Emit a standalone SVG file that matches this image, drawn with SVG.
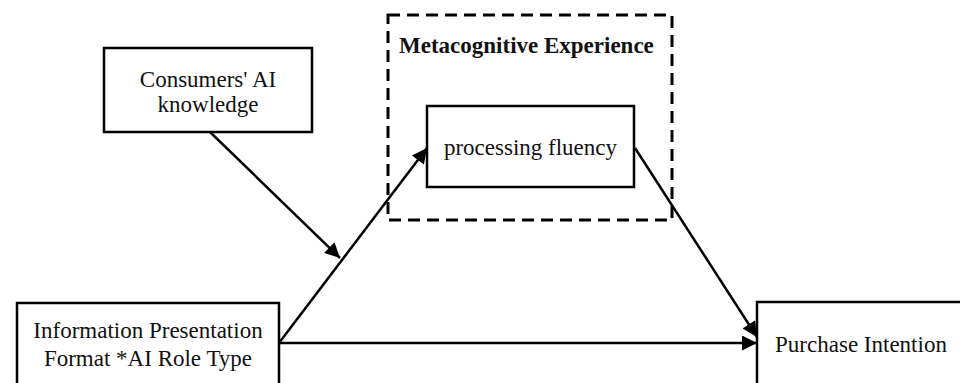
<svg xmlns="http://www.w3.org/2000/svg" width="960" height="383" viewBox="0 0 960 383">
<defs>
<style>
.box{fill:#fff;stroke:#000;stroke-width:2.5}
.t{font-family:"Liberation Serif","Times New Roman",serif;font-size:23px;fill:#111;text-anchor:middle}
.b{font-weight:bold;text-anchor:start}
.c{stroke:#000;stroke-width:2.5;fill:none}
</style>
<marker id="ah" viewBox="0 0 10 10" refX="10" refY="5" markerWidth="7" markerHeight="6" markerUnits="strokeWidth" orient="auto">
<path d="M0,0 L10,5 L0,10 Z" fill="#000"/>
</marker>
</defs>
<rect width="960" height="383" fill="#fff"/>
<g id="mediator-group">
<rect x="388" y="15" width="284" height="205" fill="none" stroke="#000" stroke-width="3" stroke-dasharray="12 7"/>
<text class="t b" x="399" y="53">Metacognitive Experience</text>
</g>
<g id="processing-fluency">
<rect class="box" x="427" y="106" width="207" height="81"/>
<text class="t" x="530.5" y="155">processing fluency</text>
</g>
<g id="ai-knowledge">
<rect class="box" x="104" y="48" width="208" height="84"/>
<text class="t" x="208" y="87">Consumers' AI</text>
<text class="t" x="208" y="112">knowledge</text>
</g>
<g id="info-format">
<rect class="box" x="17" y="303" width="262" height="90"/>
<text class="t" x="148" y="338">Information Presentation</text>
<text class="t" x="148" y="366">Format *AI Role Type</text>
</g>
<g id="purchase-intention">
<rect class="box" x="757" y="302" width="213" height="90"/>
<text class="t" x="861" y="352">Purchase Intention</text>
</g>
<g id="connectors">
<line class="c" x1="279" y1="343" x2="427" y2="148" marker-end="url(#ah)"/>
<line class="c" x1="279" y1="343" x2="757" y2="343" marker-end="url(#ah)"/>
<line class="c" x1="635" y1="148" x2="757" y2="337" marker-end="url(#ah)"/>
<line class="c" x1="210" y1="132" x2="340" y2="258" marker-end="url(#ah)"/>
</g>
</svg>
